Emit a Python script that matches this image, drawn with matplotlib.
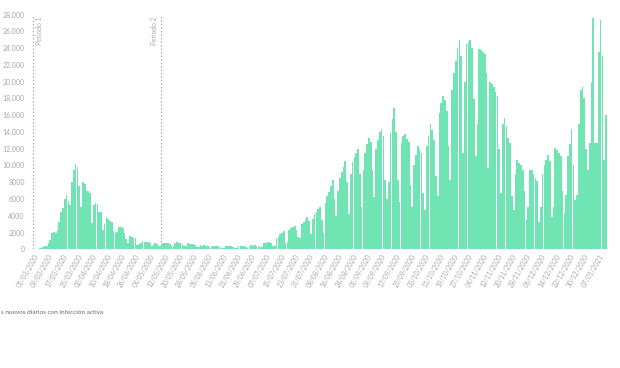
import matplotlib
matplotlib.use("Agg")
import matplotlib.pyplot as plt
import numpy as np
import pandas as pd

plt.rcParams['font.family'] = ['Lato', 'DejaVu Sans']

# ---------------- data ----------------
fecha_inicio = "2020-03-01"
casos = [
    20, 40, 60, 100, 150, 250, 350,
    400, 700, 1100, 1900, 2100, 2000, 2300,
    3300, 4500, 4900, 6000, 6500, 5800, 5300,
    8000, 9400, 10200, 9800, 7600, 5100, 8000,
    7800, 7000, 6900, 6700, 3100, 5300, 5500,
    5400, 4500, 4400, 2300, 3000, 3900, 3600,
    3400, 3300, 2200, 1900, 2100, 2600, 2700,
    2500, 2000, 1200, 800, 1600, 1500, 1400,
    1300, 500, 600, 700, 950, 900, 900,
    850, 800, 400, 500, 700, 650, 400,
    350, 700, 800, 750, 700, 650, 450,
    400, 800, 850, 750, 700, 650, 400,
    350, 700, 650, 600, 600, 500, 300,
    250, 500, 450, 500, 400, 350, 250,
    250, 400, 450, 400, 350, 300, 200,
    200, 400, 350, 400, 350, 300, 200,
    200, 400, 450, 400, 350, 300, 200,
    250, 500, 450, 500, 450, 400, 250,
    300, 700, 800, 900, 850, 800, 350,
    400, 1300, 1500, 1800, 2000, 2200, 800,
    900, 2300, 2500, 2600, 2800, 2300, 1500,
    1300, 3000, 3200, 3500, 3800, 3400, 1800,
    3600, 4200, 4500, 4800, 5000, 3500, 2000,
    5500, 6300, 6800, 7500, 8300, 6000, 4000,
    7000, 8500, 9200, 9800, 10500, 8000, 4200,
    9000, 10400, 11000, 11500, 12000, 9000, 5000,
    9500, 11500, 12500, 13300, 12800, 9500, 6200,
    12000, 13000, 14000, 14300, 13500, 8300, 6000,
    8000, 13900, 15500, 16900, 14000, 8300, 5700,
    12700, 13500, 13700, 13200, 12800, 7700, 5000,
    10000, 11300, 12300, 12000, 11500, 6700, 4700,
    12300, 13500, 14900, 14200, 13000, 8700, 6300,
    16300, 17500, 18300, 17800, 16500, 12300, 8300,
    19000, 21000, 22500, 24000, 25000, 23000, 11500,
    19900, 24500, 24700, 25000, 24000, 17900, 11100,
    15000, 23900, 23800, 23500, 23300, 21000, 9700,
    20000, 19700, 19300, 18800, 18300, 12000, 6700,
    15000, 15700, 14700, 13300, 12700, 6300, 4700,
    9000, 10700, 10300, 10000, 9500, 7000, 3500,
    5000, 9500, 9500, 9000, 8500, 8100, 3300,
    5100, 9000, 10000, 10700, 11300, 10500, 3900,
    5000, 12100, 11800, 11500, 11100, 7000, 4300,
    6500, 11100, 12500, 14300, 10000, 5900, 6500,
    15000, 19000, 19300, 18000, 12000, 9500, 12700,
    20000, 27600, 12700, 12700, 23500, 27300, 23000,
    10700, 16000,
]
tick_fechas = pd.date_range("2020-03-01", "2021-01-07", freq="8D")
tick_etiquetas = [f.strftime("%d/%m/%Y") for f in tick_fechas]
y_valores = [0, 2000, 4000, 6000, 8000, 10000, 12000, 14000, 16000,
             18000, 20000, 22000, 24000, 26000, 28000]
y_etiquetas = ["0", "2000", "4000", "6000", "8000", "10.000", "12.000",
               "14.000", "16.000", "18.000", "20.000", "22.000", "24.000",
               "26.000", "28.000"]
periodos = ["Periodo 1", "Periodo 2"]
periodo_fechas = ["2020-03-01", "2020-05-11"]
leyenda = "s nuevos diarios con infección activa"

# ---------------- figure ----------------
W, H = 620, 368
fig = plt.figure(figsize=(W / 100, H / 100), dpi=100)
ax_left, ax_right, ax_top, ax_bottom = 31, 609, 14.5, 249.3
ax = fig.add_axes([ax_left / W, 1 - ax_bottom / H,
                   (ax_right - ax_left) / W, (ax_bottom - ax_top) / H])

t0 = pd.Timestamp(fecha_inicio)
x = np.arange(len(casos))
ax.bar(x, casos, width=0.94, color='#70e4b2', linewidth=0)

ax.set_xlim(-1.66, 317.66)
ax.set_ylim(0, 28000)

tick_pos = [(f - t0).days for f in tick_fechas]
ax.set_xticks(tick_pos)
ax.set_xticklabels(tick_etiquetas, rotation=60, ha='right',
                   rotation_mode='anchor', fontsize=4.8, color='#a8a8a8')
ax.set_yticks(y_valores)
ax.set_yticklabels(y_etiquetas, fontsize=5, color='#a8a8a8')
ax.tick_params(axis='both', length=0)
ax.tick_params(axis='y', pad=4.5)
ax.tick_params(axis='x', pad=2.5)
for s in ax.spines.values():
    s.set_visible(False)

# period markers
p1 = (pd.Timestamp(periodo_fechas[0]) - t0).days - 0.3
p2 = (pd.Timestamp(periodo_fechas[1]) - t0).days - 0.8
for p in (p1, p2):
    ax.axvline(p, color='#b0b0b0', linestyle=(0, (1.2, 1.6)), lw=0.9, zorder=3)
ax.text(p1 + 3.6, 27750, periodos[0], rotation=90, ha='center', va='top',
        fontsize=4.8, color='#a8a8a8')
ax.text(p2 - 3.4, 27750, periodos[1], rotation=90, ha='center', va='top',
        fontsize=4.8, color='#a8a8a8')

# legend text (as visible at the left edge of the reference)
fig.text(1 / W, 1 - 313 / H, leyenda, fontsize=4.6,
         color='#666666', ha='left', va='center')

fig.savefig("out.png", dpi=100)
